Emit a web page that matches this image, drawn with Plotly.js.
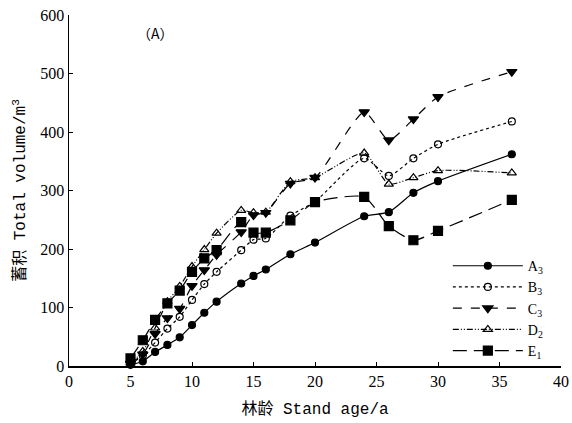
<!DOCTYPE html>
<html>
<head>
<meta charset="utf-8">
<script src="https://cdn.plot.ly/plotly-3.0.1.min.js"></script>
<style>html,body{margin:0;padding:0;background:#fff}#chart{width:572px;height:423px}</style>
</head>
<body>
<div id="chart"></div>
<script>
const ages = [5, 6, 7, 8, 9, 10, 11, 12, 14, 15, 16, 18, 20, 24, 26, 28, 30, 36];
const seriesNames = ["A<sub>3</sub>", "B<sub>3</sub>", "C<sub>3</sub>", "D<sub>2</sub>", "E<sub>1</sub>"];
const A3 = [2, 8, 24, 36, 49, 70, 91, 110, 141, 154, 165, 191, 211, 256, 263, 296, 316, 362];
const B3 = [3, 18, 40, 64, 84, 113, 140, 161, 198, 216, 218, 257, 281, 355, 325, 355, 379, 418];
const C3 = [4, 20, 55, 82, 98, 137, 164, 190, 229, 258, 262, 312, 322, 434, 386, 422, 460, 503];
const D2 = [5, 25, 65, 110, 136, 170, 199, 227, 266, 262, 263, 315, 322, 364, 311, 322, 334, 330];
const E1 = [13, 44, 79, 107, 129, 161, 184, 198, 246, 228, 228, 249, 280, 289, 239, 215, 231, 284];
const xTicks = [0, 5, 10, 15, 20, 25, 30, 35, 40];
const yTicks = [0, 100, 200, 300, 400, 500, 600];

const values = [A3, B3, C3, D2, E1];
const dashes = ["solid", "dot", "dash", "6px,2px,1px,2px,1px,2px", "14px,7px"];
const symbols = ["circle", "circle-open", "triangle-down", "triangle-up-open", "square"];
const sizes = [7, 7, 9, 8, 9];

const traces = values.map((v, i) => ({
  x: ages, y: v, name: seriesNames[i], type: "scatter", mode: "lines+markers",
  line: {color: "#000", width: 1.2, dash: dashes[i], shape: "spline", smoothing: 0.6},
  marker: {symbol: symbols[i], size: sizes[i], color: "#000", line: {color: "#000", width: 1.2}},
  cliponaxis: false
}));

const serif = "Liberation Serif, Noto Sans CJK SC, serif";
const mono = "Liberation Mono, Noto Sans CJK SC, monospace";

const layout = {
  width: 572, height: 423,
  margin: {l: 69, r: 11, t: 15, b: 57},
  paper_bgcolor: "#fff", plot_bgcolor: "#fff",
  showlegend: true,
  legend: {x: 0.77, y: 0.33, xanchor: "left", yanchor: "top", bgcolor: "rgba(0,0,0,0)",
           font: {family: serif, size: 14, color: "#000"}, itemwidth: 70, tracegroupgap: 0},
  xaxis: {range: [0, 40], tickvals: xTicks, ticktext: xTicks.map(String), ticks: "inside", ticklen: 4,
          tickcolor: "#000", showline: true, linecolor: "#000", linewidth: 1.5, showgrid: false, zeroline: false,
          tickfont: {family: serif, size: 16, color: "#000"},
          title: {text: "林龄 Stand age/a", font: {family: mono, size: 16, color: "#000"}, standoff: 14}},
  yaxis: {range: [0, 600], tickvals: yTicks, ticktext: yTicks.map(String), ticks: "inside", ticklen: 4,
          tickcolor: "#000", showline: true, linecolor: "#000", linewidth: 1.5, showgrid: false, zeroline: false,
          tickfont: {family: serif, size: 16, color: "#000"},
          title: {text: "蓄积 Total volume/m<sup>3</sup>", font: {family: mono, size: 16, color: "#000"}, standoff: 10}},
  annotations: [{x: 7, y: 570, xref: "x", yref: "y", text: "（A）", showarrow: false,
                 font: {family: "Noto Sans CJK SC, Liberation Mono, monospace", size: 14, color: "#000"}}]
};

Plotly.newPlot("chart", traces, layout, {displayModeBar: false, staticPlot: true});
</script>
</body>
</html>
